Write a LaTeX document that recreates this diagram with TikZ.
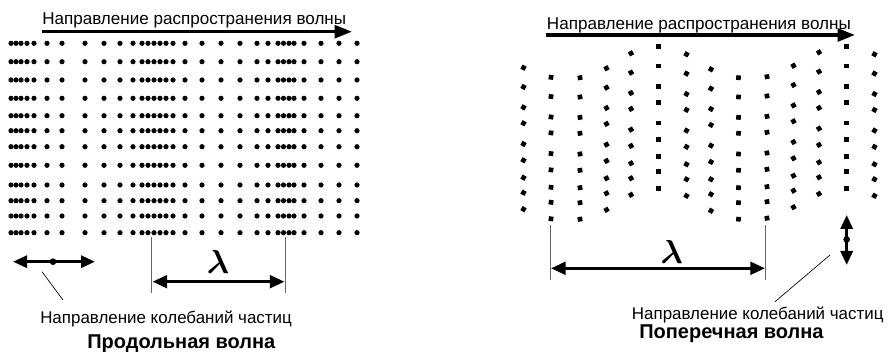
\documentclass[tikz,border=0pt]{standalone}
\usepackage{fontspec}
\usepackage{bm}
\setmainfont{Liberation Sans}
\usetikzlibrary{arrows.meta}

\begin{document}
\begin{tikzpicture}[x=0.75pt,y=-0.75pt,
  dirarrow/.style={line width=2.6pt,-{Triangle[length=13pt,width=9.5pt]}},
  lamarrow/.style={line width=2.3pt,{Triangle[length=11pt,width=9.5pt]}-{Triangle[length=11pt,width=9.5pt]}},
  vibarrow/.style={line width=2.3pt,{Triangle[length=10.5pt,width=9pt]}-{Triangle[length=10.5pt,width=9pt]}},
  marker/.style={line width=0.7pt,draw=black!60},
  leader/.style={line width=0.5pt},
  ball/.style={circle,fill=black,inner sep=0pt,minimum size=5pt},
  sq/.style={rectangle,fill=black,inner sep=0pt,minimum size=3.5pt},
  lbl/.style={anchor=base west,inner sep=0pt,font=\fontsize{12.7}{14}\selectfont},
  title/.style={anchor=base west,inner sep=0pt,font=\fontsize{15}{17}\selectfont\bfseries},
  lam/.style={inner sep=0pt,font=\fontsize{24}{26}\selectfont}]
\useasboundingbox (0,0) rectangle (889,352);

% ---------- longitudinal wave ----------
\node[lbl,font=\fontsize{12.8}{15}\selectfont] (ltxt) at (42,25) {Направление распространения волны};
\coordinate (la) at (42,31.7);
\coordinate (lb) at (352,31.7);
\draw[dirarrow] (la) -- (lb);

\foreach \y in {43.3,61.7,80,98.3,115.7,130.7,146.7,165.3,185,200.7,216,232.7}
  \foreach \x in {11,16,21,27,34,47,62,85,104,120,133,142,148,154,160,166,173,185,202,221,240,257,268,278,283.5,289,294,304,321,339,357}
    \fill (\x,\y) circle[radius=1.95pt];

\coordinate (lm1) at (151.7,236.7);
\coordinate (lm1b) at (151.7,293);
\coordinate (lm2) at (285,236.7);
\coordinate (lm2b) at (285,293);
\draw[marker] (lm1) -- (lm1b);
\draw[marker] (lm2) -- (lm2b);
\coordinate (ll1) at (152.5,281.7);
\coordinate (ll2) at (284.5,281.7);
\draw[lamarrow] (ll1) -- (ll2);
\node[lam] (llam) at (218,262) {$\bm{\lambda}$};

\coordinate (lv1) at (13,261.7);
\coordinate (lv2) at (95,261.7);
\draw[vibarrow] (lv1) -- (lv2);
\node[ball] (lvd) at (53,261.7) {};
\coordinate (lp1) at (42,271.7);
\coordinate (lp2) at (63,300);
\draw[leader] (lp1) -- (lp2);
\node[lbl] (lvib) at (40,324) {Направление колебаний частиц};
\node[title] (ltitle) at (87,349) {Продольная волна};

% ---------- transverse wave ----------
\node[lbl,font=\fontsize{12.8}{15}\selectfont] (rtxt) at (546.7,29.5) {Направление распространения волны};
\coordinate (ra) at (546,35);
\coordinate (rb) at (855,35);
\draw[dirarrow] (ra) -- (rb);

\foreach \cx/\cy/\r in {523.5/67.7/-30, 551/77.3/-8, 580/77.7/10, 606.5/68.3/30, 631/53.3/30,
                       658.5/46.7/0, 686.5/54.3/-30, 711/69.3/-30, 738.5/77.7/-5, 767/76.7/10,
                       793.5/65.7/30, 819/52.3/30, 846.7/46.7/0, 874.5/54.3/-30}
  \foreach \dy in {0,19.3,39.7,55.6,76.3,92.6,110,125,141.5}
    \node[sq,rotate=\r] at (\cx,\cy+\dy) {};

\coordinate (rm1) at (550,225);
\coordinate (rm1b) at (550,280);
\coordinate (rm2) at (765.7,225);
\coordinate (rm2b) at (765.7,280);
\draw[marker] (rm1) -- (rm1b);
\draw[marker] (rm2) -- (rm2b);
\coordinate (rl1) at (551,268.3);
\coordinate (rl2) at (765,268.3);
\draw[lamarrow] (rl1) -- (rl2);
\node[lam] (rlam) at (671.7,251.7) {$\bm{\lambda}$};

\coordinate (rv1) at (846.7,215);
\coordinate (rv2) at (846.7,265);
\draw[vibarrow] (rv1) -- (rv2);
\node[ball] (rvd) at (846.7,239.5) {};
\coordinate (rp1) at (830,255);
\coordinate (rp2) at (775,301.7);
\draw[leader] (rp1) -- (rp2);
\node[lbl] (rvib) at (631.7,320) {Направление колебаний частиц};
\node[title] (rtitle) at (639,339) {Поперечная волна};
\end{tikzpicture}
\end{document}
